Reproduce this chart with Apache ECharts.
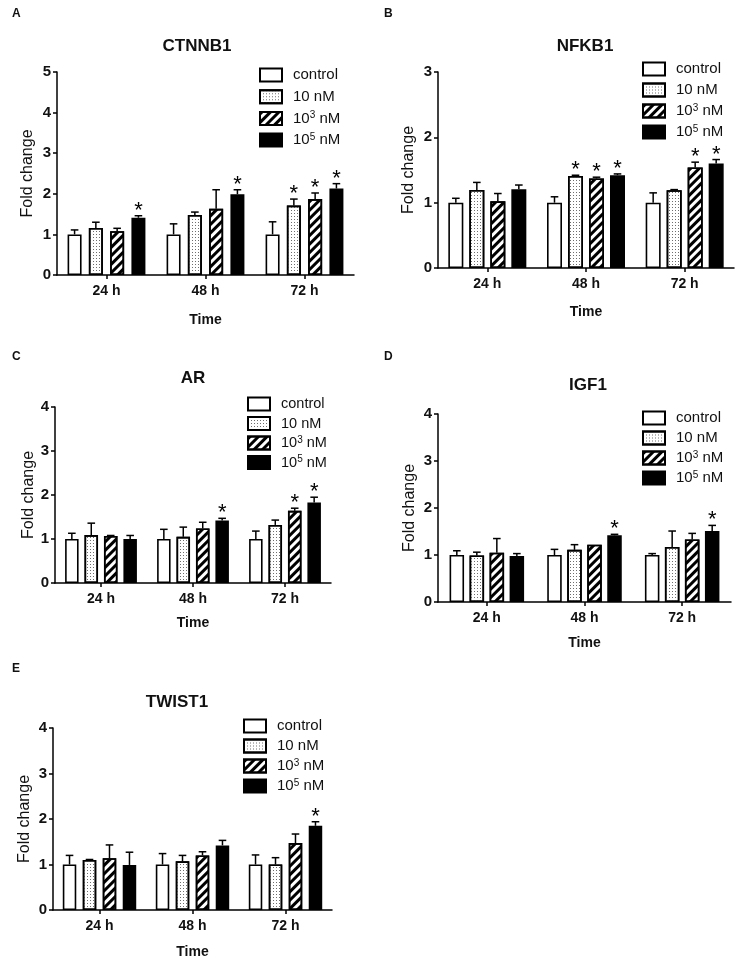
<!DOCTYPE html>
<html>
<head>
<meta charset="utf-8">
<script src="https://cdn.jsdelivr.net/npm/echarts@6/dist/echarts.min.js"></script>
<style>
html,body{margin:0;padding:0;background:#fff;}
#chart{width:736px;height:960px;}
</style>
</head>
<body>
<div id="chart"></div>
<script>
// ---------- data ----------
const categories = ['24 h', '48 h', '72 h'];
const seriesNames = ['control', '10 nM', '10^3 nM', '10^5 nM'];
const geneNames = ['CTNNB1', 'NFKB1', 'AR', 'IGF1', 'TWIST1'];
const panelLetters = ['A', 'B', 'C', 'D', 'E'];
const yMaxValues = [5, 3, 4, 4, 4];
const yTickLabels = ['0', '1', '2', '3', '4', '5'];

// mean fold change: rows = control, 10 nM, 10^3 nM, 10^5 nM; cols = 24 h, 48 h, 72 h
const ctnnb1Mean = [[1.00, 1.00, 1.00], [1.16, 1.48, 1.71], [1.08, 1.63, 1.87], [1.41, 1.99, 2.13]];
const ctnnb1Err  = [[0.11, 0.26, 0.31], [0.14, 0.07, 0.16], [0.07, 0.47, 0.15], [0.05, 0.11, 0.12]];
const ctnnb1Sig  = [[0, 0, 0], [0, 0, 1], [0, 0, 1], [1, 1, 1]];

const nfkb1Mean = [[1.00, 1.00, 1.00], [1.195, 1.41, 1.19], [1.02, 1.37, 1.54], [1.205, 1.42, 1.60]];
const nfkb1Err  = [[0.067, 0.09, 0.15], [0.115, 0.01, 0.01], [0.12, 0.02, 0.08], [0.065, 0.02, 0.06]];
const nfkb1Sig  = [[0, 0, 0], [0, 1, 0], [0, 1, 1], [0, 1, 1]];

const arMean = [[1.00, 1.00, 1.00], [1.09, 1.05, 1.32], [1.07, 1.24, 1.64], [1.00, 1.42, 1.83]];
const arErr  = [[0.13, 0.22, 0.18], [0.27, 0.22, 0.11], [0.01, 0.14, 0.06], [0.08, 0.05, 0.12]];
const arSig  = [[0, 0, 0], [0, 0, 0], [0, 0, 1], [0, 1, 1]];

const igf1Mean = [[1.00, 1.00, 1.00], [0.99, 1.11, 1.17], [1.05, 1.22, 1.33], [0.98, 1.42, 1.51]];
const igf1Err  = [[0.09, 0.12, 0.03], [0.07, 0.11, 0.34], [0.30, 0.00, 0.13], [0.05, 0.02, 0.12]];
const igf1Sig  = [[0, 0, 0], [0, 0, 0], [0, 0, 0], [0, 1, 1]];

const twist1Mean = [[1.00, 1.00, 1.00], [1.10, 1.07, 1.00], [1.14, 1.20, 1.47], [0.99, 1.42, 1.85]];
const twist1Err  = [[0.20, 0.24, 0.21], [0.01, 0.13, 0.15], [0.29, 0.08, 0.20], [0.28, 0.11, 0.09]];
const twist1Sig  = [[0, 0, 0], [0, 0, 0], [0, 0, 0], [0, 0, 1]];

const geneMeans = [ctnnb1Mean, nfkb1Mean, arMean, igf1Mean, twist1Mean];
const geneErrs = [ctnnb1Err, nfkb1Err, arErr, igf1Err, twist1Err];
const geneSigs = [ctnnb1Sig, nfkb1Sig, arSig, igf1Sig, twist1Sig];

// ---------- layout (positions / styles) ----------
const layouts = [
  {left: 57,  top: 72,  width: 297, height: 203, bw: 14,   gap: 0.52, lgLeft: 259, lgTop: 67,  lgGap: 5.7, lgFont: 15,   tx: 197, ty: 38,  lx: 12,  ly: 8,   nameGap: 21, xNameGap: 38},
  {left: 438, top: 72,  width: 296, height: 196, bw: 15,   gap: 0.40, lgLeft: 642, lgTop: 61,  lgGap: 5,   lgFont: 15,   tx: 585, ty: 38,  lx: 384, ly: 8,   nameGap: 21, xNameGap: 37},
  {left: 55,  top: 407, width: 276, height: 176, bw: 13.5, gap: 0.44, lgLeft: 247, lgTop: 396, lgGap: 3.5, lgFont: 14.5, tx: 193, ty: 370, lx: 12,  ly: 351, nameGap: 18, xNameGap: 33},
  {left: 438, top: 414, width: 293, height: 188, bw: 14.5, gap: 0.38, lgLeft: 642, lgTop: 410, lgGap: 4,   lgFont: 15,   tx: 588, ty: 377, lx: 384, ly: 351, nameGap: 20, xNameGap: 34},
  {left: 53,  top: 728, width: 279, height: 183, bw: 13.5, gap: 0.48, lgLeft: 243, lgTop: 718, lgGap: 4,   lgFont: 15,   tx: 177, ty: 694, lx: 12,  ly: 663, nameGap: 20, xNameGap: 35}
];

const FONT = "'Liberation Sans', Arial, Helvetica, sans-serif";
const INK = '#111';

const dotDecal = {symbol: 'rect', symbolSize: 1, color: '#6e6e6e', dashArrayX: [1, 2], dashArrayY: [1, 2], rotation: 0};
const stripeDecal = {symbol: 'rect', symbolSize: 1, color: '#000', dashArrayX: [1, 0], dashArrayY: [2.6, 2.4], rotation: -Math.PI / 4};
const seriesStyles = [
  {color: '#ffffff'},
  {color: '#ffffff', decal: dotDecal},
  {color: '#ffffff', decal: stripeDecal},
  {color: '#000000'}
];

function legendFormatter(name) {
  if (name === '10^3 nM') return '10{sup|3} nM';
  if (name === '10^5 nM') return '10{sup|5} nM';
  return name;
}

const option = {
  backgroundColor: '#ffffff',
  animation: false,
  title: [],
  legend: [],
  grid: [],
  xAxis: [],
  yAxis: [],
  series: []
};

layouts.forEach((L, g) => {
  option.title.push({
    text: geneNames[g], left: L.tx, top: L.ty, textAlign: 'center', padding: 0,
    textStyle: {fontFamily: FONT, fontSize: 17, fontWeight: 'bold', color: INK}
  });
  option.title.push({
    text: panelLetters[g], left: L.lx, top: L.ly, padding: 0,
    textStyle: {fontFamily: FONT, fontSize: 12, fontWeight: 'bold', color: INK}
  });
  option.grid.push({left: L.left, top: L.top, width: L.width, height: L.height, containLabel: false});
  option.xAxis.push({
    type: 'category', gridIndex: g, data: categories,
    name: 'Time', nameLocation: 'middle', nameGap: L.xNameGap,
    nameTextStyle: {fontFamily: FONT, fontSize: 14, fontWeight: 'bold', color: INK},
    axisLine: {show: true, lineStyle: {color: '#000', width: 1.5}},
    axisTick: {show: true, alignWithLabel: true, length: 4, lineStyle: {color: '#000', width: 1.5}},
    axisLabel: {fontFamily: FONT, fontSize: 14, fontWeight: 'bold', color: INK, margin: 9},
    splitLine: {show: false}
  });
  option.yAxis.push({
    type: 'value', gridIndex: g, min: 0, max: yMaxValues[g], interval: 1,
    name: 'Fold change', nameLocation: 'middle', nameGap: L.nameGap,
    nameTextStyle: {fontFamily: FONT, fontSize: 16, color: INK},
    axisLine: {show: true, lineStyle: {color: '#000', width: 1.5}},
    axisTick: {show: true, length: 4, lineStyle: {color: '#000', width: 1.5}},
    axisLabel: {fontFamily: FONT, fontSize: 15, fontWeight: 'bold', color: INK, margin: 6,
      formatter: v => yTickLabels[v]},
    splitLine: {show: false}
  });
  option.legend.push({
    orient: 'vertical', left: L.lgLeft, top: L.lgTop, padding: 0,
    itemWidth: 22, itemHeight: 13, itemGap: L.lgGap, icon: 'rect',
    data: seriesNames, selectedMode: false,
    formatter: legendFormatter,
    textStyle: {fontFamily: FONT, fontSize: L.lgFont, color: INK, lineHeight: 16, padding: [0, 0, 0, 6],
      rich: {sup: {fontFamily: FONT, fontSize: 10, lineHeight: 10, color: INK, verticalAlign: 'top'}}}
  });

  const means = geneMeans[g], errs = geneErrs[g], sigs = geneSigs[g];
  seriesNames.forEach((nm, s) => {
    option.series.push({
      type: 'bar', name: nm, xAxisIndex: g, yAxisIndex: g,
      data: means[s], barWidth: L.bw, barGap: Math.round(L.gap * 100) + '%',
      itemStyle: Object.assign({borderColor: '#000', borderWidth: 1.6}, seriesStyles[s]),
      emphasis: {disabled: true}, z: 2
    });
  });

  // error bars + significance asterisks
  const ebData = [];
  seriesNames.forEach((nm, s) => {
    categories.forEach((c, ci) => {
      ebData.push([ci, means[s][ci], errs[s][ci], s, sigs[s][ci]]);
    });
  });
  option.series.push({
    type: 'custom', xAxisIndex: g, yAxisIndex: g, z: 5, silent: true,
    data: ebData,
    encode: {x: 0, y: 1},
    renderItem: (params, api) => {
      const ci = api.value(0), m = api.value(1), e = api.value(2), s = api.value(3), sig = api.value(4);
      const base = api.coord([ci, m]);
      const top = api.coord([ci, m + e]);
      const bw = L.bw, gp = L.bw * Math.round(L.gap * 100) / 100;
      const total = 4 * bw + 3 * gp;
      const x = base[0] - total / 2 + s * (bw + gp) + bw / 2;
      const children = [];
      if (e > 0.004) {
        children.push({type: 'line', shape: {x1: x, y1: base[1], x2: x, y2: top[1]},
          style: {stroke: '#000', lineWidth: 1.5}});
        children.push({type: 'line', shape: {x1: x - 3.8, y1: top[1], x2: x + 3.8, y2: top[1]},
          style: {stroke: '#000', lineWidth: 1.5}});
      }
      if (sig) {
        children.push({type: 'text', x: x, y: top[1] + 6,
          style: {text: '*', fontFamily: FONT, fontSize: 22, fill: '#000', align: 'center', verticalAlign: 'bottom'}});
      }
      return {type: 'group', children: children};
    }
  });
});

const chart = echarts.init(document.getElementById('chart'), null, {renderer: 'canvas'});
chart.setOption(option);
</script>
</body>
</html>
